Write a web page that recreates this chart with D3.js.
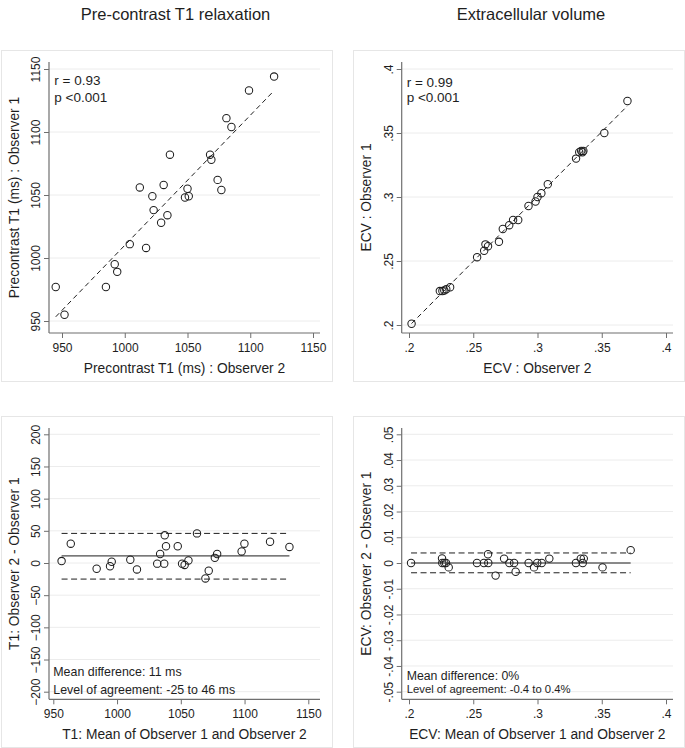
<!DOCTYPE html>
<html>
<head>
<meta charset="utf-8">
<script src="https://cdn.jsdelivr.net/npm/d3@7"></script>
<style>
	body { margin: 0; background: #fff; }
	svg text { font-family: "Liberation Sans", Arial, sans-serif; fill: #1e1e1e; }
</style>
</head>
<body>
<svg id="chart" width="685" height="748"></svg>
<script>
var panelTitles = ['Pre-contrast T1 relaxation', 'Extracellular volume'];

var t1Ticks = [950, 1000, 1050, 1100, 1150];
var ecvTicks = [0.2, 0.25, 0.3, 0.35, 0.4];
var t1DiffTicks = [-200, -150, -100, -50, 0, 50, 100, 150, 200];
var ecvDiffTicks = [-0.05, -0.04, -0.03, -0.02, -0.01, 0, 0.01, 0.02, 0.03, 0.04, 0.05];

// T1 (ms), observer 2 on x, observer 1 on y
var t1Observer2 = [945, 952, 985, 992, 994, 1004, 1017, 1012, 1022, 1023, 1029, 1034, 1031, 1036, 1048, 1050, 1051, 1068, 1069, 1074, 1077, 1081, 1085, 1099, 1119];
var t1Observer1 = [977, 955, 977, 995, 989, 1011, 1008, 1056, 1049, 1038, 1028, 1034, 1058, 1082, 1048, 1055, 1049, 1082, 1078, 1062, 1054, 1111, 1104, 1133, 1144];

// ECV, observer 2 on x, observer 1 on y
var ecvObserver2 = [0.202, 0.224, 0.226, 0.2275, 0.229, 0.232, 0.253, 0.2585, 0.2595, 0.2615, 0.270, 0.273, 0.278, 0.281, 0.285, 0.293, 0.2985, 0.300, 0.303, 0.308, 0.330, 0.3325, 0.334, 0.335, 0.3357, 0.352, 0.370];
var ecvObserver1 = [0.201, 0.2265, 0.2265, 0.227, 0.228, 0.2295, 0.253, 0.258, 0.263, 0.2615, 0.265, 0.275, 0.278, 0.282, 0.282, 0.293, 0.2965, 0.300, 0.303, 0.310, 0.330, 0.335, 0.336, 0.335, 0.336, 0.350, 0.375];

// Bland-Altman, T1
var t1Mean = [956.5, 963.7, 984, 994.5, 995.8, 1010.4, 1015.6, 1031.5, 1033.8, 1037, 1037.4, 1038.4, 1047.6, 1051, 1053, 1056, 1062.7, 1069.3, 1071.9, 1076.7, 1078.5, 1097.7, 1099.9, 1120, 1135.2];
var t1Difference = [3, 30, -9, -5, 2, 5, -10, -1, 14, -1, 43, 26, 26, -1, -3, 4, 46, -24, -12, 8, 14, 18, 30, 33, 25];
var t1MeanDifference = 11;
var t1Agreement = [-25, 46];

// Bland-Altman, ECV
var ecvMean = [0.2016, 0.2257, 0.2259, 0.2275, 0.2288, 0.2309, 0.2529, 0.2583, 0.2615, 0.2617, 0.2674, 0.2740, 0.2781, 0.2818, 0.2830, 0.2931, 0.2973, 0.2998, 0.3033, 0.3092, 0.3299, 0.3337, 0.3352, 0.3360, 0.3506, 0.3725];
var ecvDifference = [0, 0.0018, 0, 0, 0, -0.0017, 0, 0, 0.0034, 0, -0.0049, 0.0017, 0, 0, -0.0034, 0, -0.0017, 0, 0, 0.0017, 0, 0.0017, 0, 0.0017, -0.0017, 0.0050];
var ecvMeanDifference = 0;
var ecvAgreement = [-0.0038, 0.0039];

(function(d3) {
	'use strict';

	var svg = d3.select('#chart');
	var axisColor = '#6f6f6f', gridColor = '#ececec', frameColor = '#e6e6e6', markColor = '#1e1e1e';
	var tickFont = '12px';

	var dotFormat = function(d) {
		if (Math.abs(d) < 1e-9) {
			return '0';
		}
		return String(+d.toFixed(3)).replace(/^(-?)0\./, '$1.');
	};

	var zip = function(xs, ys) {
		return xs.map(function(v, i) {
			return [v, ys[i]];
		});
	};

	var leastSquares = function(xs, ys) {
		var mx = d3.mean(xs), my = d3.mean(ys);
		var sxy = d3.sum(xs, function(v, i) { return (v - mx) * (ys[i] - my); });
		var sxx = d3.sum(xs, function(v) { return (v - mx) * (v - mx); });
		var b = sxy / sxx;
		return function(v) { return my + b * (v - mx); };
	};

	var Panel = function(layout) {
		var g = svg.append('g');
		var x = d3.scaleLinear().domain(layout.xDomain).range(layout.xRange);
		var y = d3.scaleLinear().domain(layout.yDomain).range(layout.yRange);
		var left = layout.axisX, bottom = layout.axisY;

		/** frame */
		g.append('rect').attr('x', layout.frame[0] + 0.5).attr('y', layout.frame[1] + 0.5)
			.attr('width', layout.frame[2] - layout.frame[0]).attr('height', layout.frame[3] - layout.frame[1])
			.attr('fill', '#fff').attr('stroke', frameColor);

		/** grid */
		g.append('g').selectAll('line').data(layout.yTicks).enter().append('line')
			.attr('x1', left).attr('x2', layout.right)
			.attr('y1', function(d) { return y(d); }).attr('y2', function(d) { return y(d); })
			.attr('stroke', gridColor).attr('stroke-width', 1);

		/** axes */
		var xAxis = d3.axisBottom(x).tickValues(layout.xTicks).tickFormat(layout.xFormat).tickSize(5).tickSizeOuter(0);
		var xg = g.append('g').attr('transform', 'translate(0,' + bottom + ')').call(xAxis);
		xg.select('.domain').remove();
		xg.selectAll('.tick line').attr('stroke', axisColor);
		xg.selectAll('.tick text').attr('y', 19).attr('dy', 0).attr('fill', '#1e1e1e')
			.style('font-size', tickFont).style('font-family', '"Liberation Sans", Arial, sans-serif');

		var yAxis = d3.axisLeft(y).tickValues(layout.yTicks).tickFormat(layout.yFormat).tickSize(5).tickSizeOuter(0);
		var yg = g.append('g').attr('transform', 'translate(' + left + ',0)').call(yAxis);
		yg.select('.domain').remove();
		yg.selectAll('.tick line').attr('stroke', axisColor);
		yg.selectAll('.tick text').attr('x', 0).attr('y', 0).attr('dy', 0).attr('text-anchor', 'middle')
			.attr('transform', 'translate(-9,0) rotate(-90)').attr('fill', '#1e1e1e')
			.style('font-size', tickFont).style('font-family', '"Liberation Sans", Arial, sans-serif');

		g.append('line').attr('x1', left).attr('x2', left).attr('y1', layout.top).attr('y2', bottom)
			.attr('stroke', axisColor).attr('stroke-width', 1.2);
		g.append('line').attr('x1', left).attr('x2', layout.right).attr('y1', bottom).attr('y2', bottom)
			.attr('stroke', axisColor).attr('stroke-width', 1.2);

		/** axis titles */
		g.append('text').attr('x', (left + layout.right) / 2).attr('y', bottom + 39.5)
			.attr('text-anchor', 'middle').style('font-size', '13.8px').text(layout.xTitle);
		g.append('text').attr('text-anchor', 'middle').style('font-size', '13.8px')
			.attr('transform', 'translate(' + (left - 30.5) + ',' + ((layout.top + bottom) / 2) + ') rotate(-90)')
			.text(layout.yTitle);

		this.x = x;
		this.y = y;
		this.g = g;
	};

	Panel.prototype.points = function(xs, ys) {
		var x = this.x, y = this.y;
		this.g.append('g').selectAll('circle').data(zip(xs, ys)).enter().append('circle')
			.attr('cx', function(d) { return x(d[0]); }).attr('cy', function(d) { return y(d[1]); })
			.attr('r', 3.7).attr('fill', 'none').attr('stroke', markColor).attr('stroke-width', 1.05);
		return this;
	};

	Panel.prototype.fitLine = function(xs, ys) {
		var x = this.x, y = this.y, fit = leastSquares(xs, ys);
		var ends = d3.extent(xs);
		this.g.append('line').attr('x1', x(ends[0])).attr('y1', y(fit(ends[0])))
			.attr('x2', x(ends[1])).attr('y2', y(fit(ends[1])))
			.attr('stroke', markColor).attr('stroke-width', 1).attr('stroke-dasharray', '5,3.5');
		return this;
	};

	Panel.prototype.hLine = function(xs, value, dashed) {
		var x = this.x, y = this.y, ends = d3.extent(xs);
		var line = this.g.append('line').attr('x1', x(ends[0])).attr('x2', x(ends[1]))
			.attr('y1', y(value)).attr('y2', y(value))
			.attr('stroke', markColor).attr('stroke-width', 1);
		if (dashed) {
			line.attr('stroke-dasharray', '6,3.5');
		}
		return this;
	};

	Panel.prototype.note = function(px, py, size, label) {
		this.g.append('text').attr('x', px).attr('y', py).style('font-size', size + 'px').text(label);
		return this;
	};

	/** titles */
	svg.append('text').attr('x', 175.5).attr('y', 20).attr('text-anchor', 'middle').style('font-size', '16.5px').text(panelTitles[0]);
	svg.append('text').attr('x', 531).attr('y', 20).attr('text-anchor', 'middle').style('font-size', '16.5px').text(panelTitles[1]);

	/** correlation, T1 */
	var p1 = new Panel({
		frame: [1, 50, 332, 381], xDomain: [950, 1150], xRange: [62, 313], yDomain: [950, 1150], yRange: [321, 69],
		axisX: 49, axisY: 333, top: 62, right: 320,
		xTicks: t1Ticks, yTicks: t1Ticks, xFormat: d3.format('d'), yFormat: d3.format('d'),
		xTitle: 'Precontrast T1 (ms) : Observer 2', yTitle: 'Precontrast T1 (ms) : Observer 1'
	});
	p1.fitLine(t1Observer2, t1Observer1).points(t1Observer2, t1Observer1)
		.note(54.3, 85, 13.5, 'r = 0.93').note(54.3, 101.5, 13.5, 'p <0.001');

	/** correlation, ECV */
	var p2 = new Panel({
		frame: [353, 50, 684, 381], xDomain: [0.2, 0.4], xRange: [409, 666], yDomain: [0.2, 0.4], yRange: [325, 69],
		axisX: 401.7, axisY: 333, top: 62, right: 673,
		xTicks: ecvTicks, yTicks: ecvTicks, xFormat: dotFormat, yFormat: dotFormat,
		xTitle: 'ECV : Observer 2', yTitle: 'ECV : Observer 1'
	});
	p2.fitLine(ecvObserver2, ecvObserver1).points(ecvObserver2, ecvObserver1)
		.note(406.7, 86.5, 13.5, 'r = 0.99').note(406.7, 101.7, 13.5, 'p <0.001');

	/** agreement, T1 */
	var p3 = new Panel({
		frame: [1, 416, 332, 747], xDomain: [950, 1150], xRange: [53.3, 308.3], yDomain: [-200, 200], yRange: [691.7, 434.3],
		axisX: 49, axisY: 699.3, top: 428, right: 320,
		xTicks: t1Ticks, yTicks: t1DiffTicks, xFormat: d3.format('d'), yFormat: d3.format('d'),
		xTitle: 'T1: Mean of Observer 1 and Observer 2', yTitle: 'T1: Observer 2 - Observer 1'
	});
	p3.hLine(t1Mean, t1Agreement[1], true).hLine(t1Mean, t1MeanDifference, false).hLine(t1Mean, t1Agreement[0], true)
		.points(t1Mean, t1Difference)
		.note(53.3, 676, 12.4, 'Mean difference: 11 ms').note(53.3, 693.5, 12.4, 'Level of agreement: -25 to 46 ms');

	/** agreement, ECV */
	var p4 = new Panel({
		frame: [353, 416, 684, 747], xDomain: [0.2, 0.4], xRange: [409, 666], yDomain: [-0.05, 0.05], yRange: [691.7, 434.3],
		axisX: 401.7, axisY: 699.3, top: 428, right: 673,
		xTicks: ecvTicks, yTicks: ecvDiffTicks, xFormat: dotFormat, yFormat: dotFormat,
		xTitle: 'ECV: Mean of Observer 1 and Observer 2', yTitle: 'ECV: Observer 2 - Observer 1'
	});
	p4.hLine(ecvMean, ecvAgreement[1], true).hLine(ecvMean, ecvMeanDifference, false).hLine(ecvMean, ecvAgreement[0], true)
		.points(ecvMean, ecvDifference)
		.note(406.7, 680, 12.3, 'Mean difference: 0%').note(406.7, 693.3, 11.3, 'Level of agreement: -0.4 to 0.4%');
})(d3);
</script>
</body>
</html>
